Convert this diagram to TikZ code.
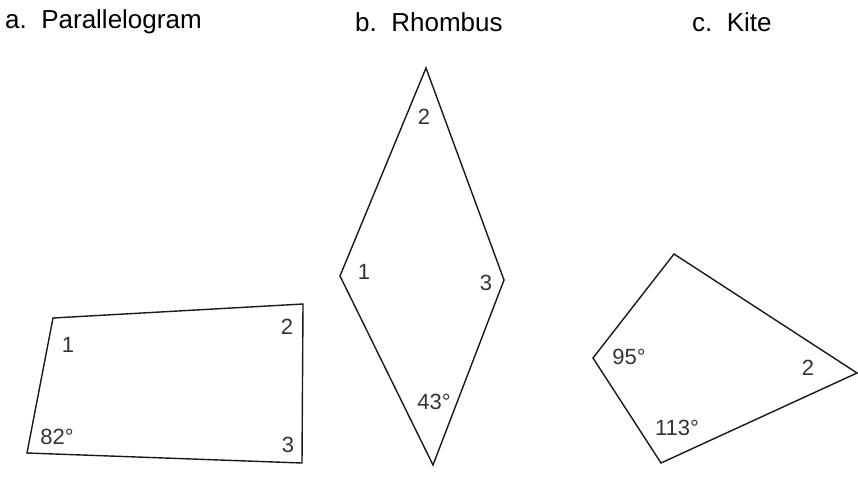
\documentclass[tikz,border=0pt]{standalone}
\usepackage{fontspec}
\setmainfont{Liberation Sans}
\usetikzlibrary{positioning}

\begin{document}
\begin{tikzpicture}[
    x=1pt, y=-1pt,
    every node/.style={inner sep=0pt},
    title/.style={anchor=west, font=\fontsize{26}{26}\selectfont},
    lbl/.style={font=\fontsize{22}{22}\selectfont, text=black!80},
    quad/.style={draw=black!90, line width=1.4pt, line join=miter}
]
    \useasboundingbox (0,0) rectangle (858,476);
    % titles
    \node[title] (tpar) at (5,22) {a.\ \ Parallelogram};
    \node[title] (trho) at (355,22) {b.\ \ Rhombus};
    \node[title] (tkite) at (692,22) {c.\ \ Kite};
    % parallelogram
    \coordinate (p1) at (53,318);
    \coordinate (p2) at (303,304);
    \coordinate (p3) at (302,463);
    \coordinate (p4) at (27,453);
    \draw[quad] (p1) -- (p2) -- (p3) -- (p4) -- cycle;
    \node[lbl] (pa) at (68,345) {1};
    \node[lbl] (pb) at (287,327) {2};
    \node[lbl] (pc) at (288,445) {3};
    \node[lbl] (pd) at (57,437) {82°};
    % rhombus
    \coordinate (r1) at (426,68);
    \coordinate (r2) at (340,276);
    \coordinate (r3) at (433,465);
    \coordinate (r4) at (504,280);
    \draw[quad] (r1) -- (r2) -- (r3) -- (r4) -- cycle;
    \node[lbl] (ra) at (424,117) {2};
    \node[lbl] (rb) at (364,272) {1};
    \node[lbl] (rc) at (486,283) {3};
    \node[lbl] (rd) at (434,402) {43°};
    % kite
    \coordinate (k1) at (674,254);
    \coordinate (k2) at (593,358);
    \coordinate (k3) at (661,463);
    \coordinate (k4) at (857,373);
    \draw[quad] (k1) -- (k2) -- (k3) -- (k4) -- cycle;
    \node[lbl] (ka) at (629,357) {95°};
    \node[lbl] (kb) at (808,368) {2};
    \node[lbl] (kc) at (677,428) {113°};
\end{tikzpicture}
\end{document}
